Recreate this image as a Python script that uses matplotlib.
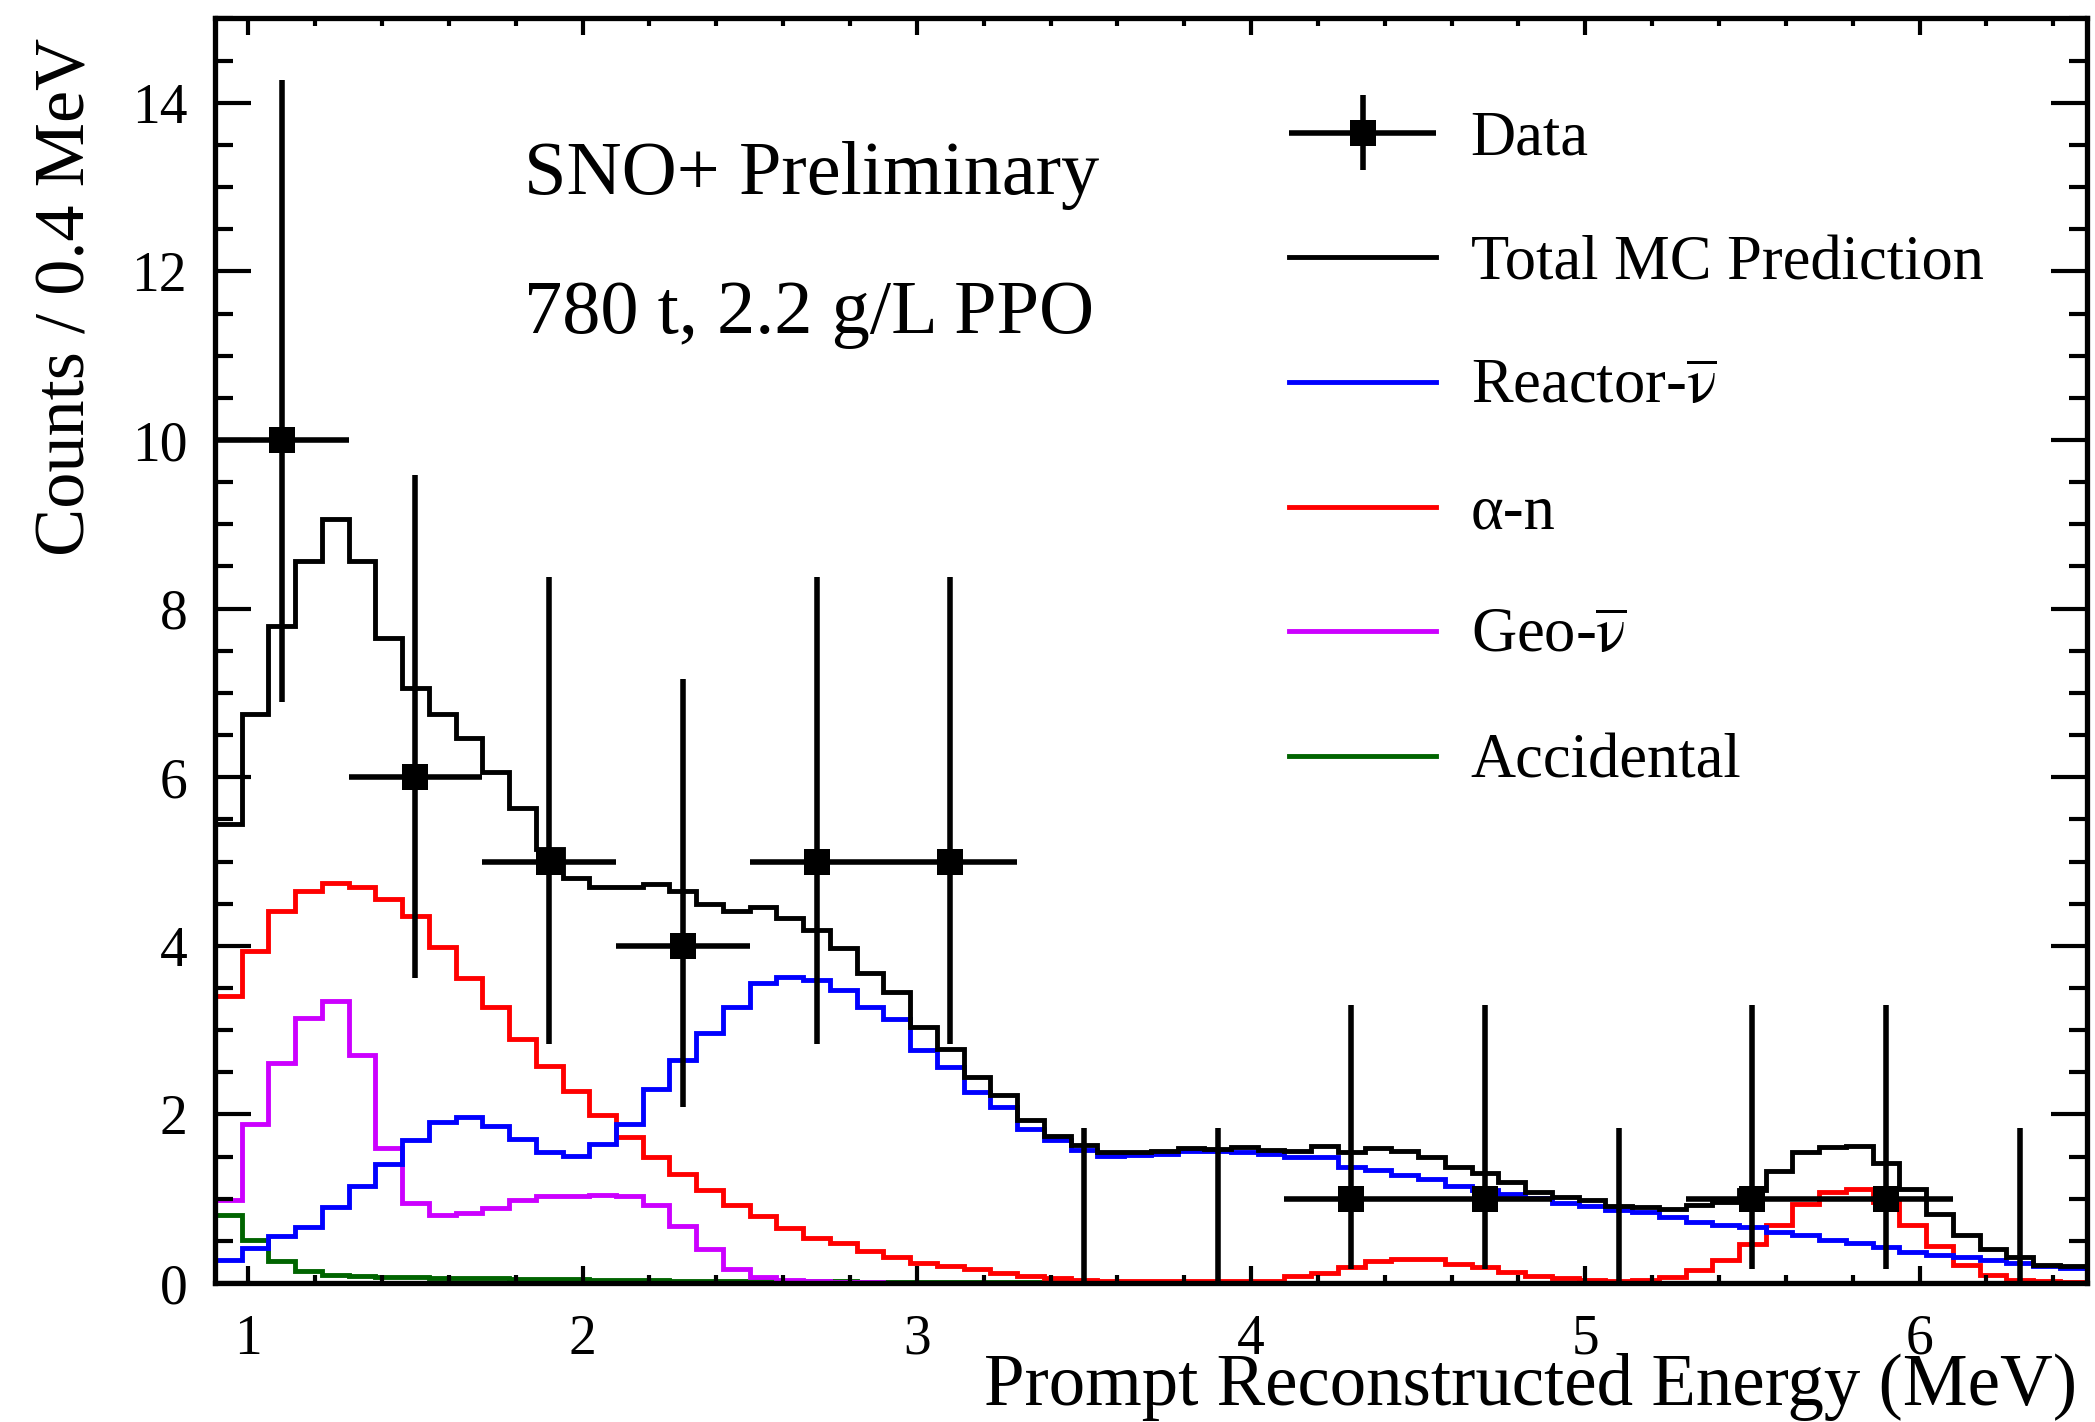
import numpy as np
import matplotlib
matplotlib.use("Agg")
import matplotlib.pyplot as plt
from matplotlib.ticker import MultipleLocator
from matplotlib.lines import Line2D
from matplotlib.legend_handler import HandlerErrorbar

plt.rcParams['font.family'] = ['Liberation Serif', 'DejaVu Sans']
plt.rcParams['mathtext.fontset'] = 'stix'

# histogram binning: 70 bins of 0.08 MeV between 0.9 and 6.5 MeV
e_lo, e_hi, n_bins = 0.9, 6.5, 70
edges = np.linspace(e_lo, e_hi, n_bins + 1)

total_mc = [5.45, 6.75, 7.79, 8.56, 9.06, 8.56, 7.65, 7.06, 6.75, 6.46,
            6.06, 5.63, 5.15, 4.81, 4.70, 4.70, 4.73, 4.65, 4.50, 4.41,
            4.46, 4.33, 4.19, 3.97, 3.68, 3.45, 3.04, 2.78, 2.45, 2.23,
            1.93, 1.75, 1.64, 1.55, 1.56, 1.57, 1.60, 1.59, 1.61, 1.58,
            1.57, 1.62, 1.56, 1.60, 1.57, 1.50, 1.38, 1.30, 1.20, 1.08,
            1.02, 0.98, 0.92, 0.90, 0.88, 0.93, 0.96, 1.10, 1.33, 1.56,
            1.61, 1.63, 1.42, 1.11, 0.82, 0.57, 0.41, 0.31, 0.22, 0.20]

reactor = [0.27, 0.42, 0.56, 0.66, 0.90, 1.15, 1.41, 1.70, 1.91, 1.97,
           1.86, 1.71, 1.56, 1.51, 1.65, 1.89, 2.30, 2.65, 2.97, 3.27,
           3.56, 3.63, 3.60, 3.48, 3.27, 3.13, 2.77, 2.56, 2.27, 2.09,
           1.83, 1.70, 1.58, 1.51, 1.52, 1.53, 1.57, 1.57, 1.55, 1.53,
           1.49, 1.49, 1.38, 1.34, 1.28, 1.24, 1.15, 1.10, 1.06, 1.01,
           0.95, 0.92, 0.87, 0.84, 0.78, 0.73, 0.69, 0.66, 0.60, 0.57,
           0.51, 0.48, 0.43, 0.37, 0.33, 0.31, 0.27, 0.24, 0.20, 0.18]

alpha_n = [3.40, 3.94, 4.41, 4.65, 4.75, 4.70, 4.55, 4.35, 3.99, 3.62,
           3.27, 2.89, 2.57, 2.28, 1.99, 1.73, 1.50, 1.29, 1.10, 0.93,
           0.80, 0.65, 0.54, 0.47, 0.38, 0.31, 0.24, 0.20, 0.17, 0.125,
           0.08, 0.06, 0.04, 0.03, 0.02, 0.02, 0.02, 0.02, 0.02, 0.03,
           0.08, 0.12, 0.19, 0.26, 0.29, 0.28, 0.23, 0.19, 0.13, 0.08,
           0.06, 0.04, 0.03, 0.04, 0.07, 0.15, 0.27, 0.46, 0.69, 0.94,
           1.08, 1.11, 0.96, 0.69, 0.44, 0.22, 0.10, 0.04, 0.02, 0.01]

geo = [0.99, 1.89, 2.61, 3.14, 3.34, 2.71, 1.60, 0.95, 0.81, 0.83,
       0.89, 0.98, 1.03, 1.03, 1.05, 1.03, 0.93, 0.68, 0.40, 0.17,
       0.07, 0.04, 0.02, 0.01, 0.01, 0, 0, 0, 0, 0,
       0, 0, 0, 0, 0, 0, 0, 0, 0, 0,
       0, 0, 0, 0, 0, 0, 0, 0, 0, 0,
       0, 0, 0, 0, 0, 0, 0, 0, 0, 0,
       0, 0, 0, 0, 0, 0, 0, 0, 0, 0]

accidental = [0.81, 0.51, 0.26, 0.14, 0.10, 0.08, 0.07, 0.07, 0.06, 0.06,
              0.06, 0.05, 0.05, 0.05, 0.04, 0.04, 0.04, 0.03, 0.03, 0.03,
              0.02, 0.02, 0.02, 0.02, 0.01, 0.01, 0.01, 0.01, 0.01, 0.01,
              0.01, 0.01, 0.01, 0.01, 0.01, 0, 0, 0, 0, 0,
              0, 0, 0, 0, 0, 0, 0, 0, 0, 0,
              0, 0, 0, 0, 0, 0, 0, 0, 0, 0,
              0, 0, 0, 0, 0, 0, 0, 0, 0, 0]

# data: 0.4 MeV bins
data_x = [1.1, 1.5, 1.9, 2.3, 2.7, 3.1, 3.5, 3.9, 4.3, 4.7, 5.1, 5.5, 5.9, 6.3]
data_y = [10, 6, 5, 4, 5, 5, 0, 0, 1, 1, 0, 1, 1, 0]
err_down = [3.11, 2.38, 2.16, 1.91, 2.16, 2.16, 0, 0, 0.83, 0.83, 0, 0.83, 0.83, 0]
err_up = [4.27, 3.58, 3.38, 3.16, 3.38, 3.38, 1.84, 1.84, 2.30, 2.30, 1.84, 2.30, 2.30, 1.84]
x_half = 0.2

fig = plt.figure(figsize=(20.95, 14.22), dpi=100)
ax = fig.add_axes([0.1026, 0.0977, 0.8934, 0.8893])

lw = 3.5
ax.stairs(accidental, edges, baseline=None, color='#006400', lw=lw)
ax.stairs(geo, edges, baseline=None, color='#cc00ff', lw=lw)
ax.stairs(alpha_n, edges, baseline=None, color='#ff0000', lw=lw)
ax.stairs(reactor, edges, baseline=None, color='#0000ff', lw=lw)
ax.stairs(total_mc, edges, baseline=None, color='black', lw=lw)

dx = np.array(data_x)
dy = np.array(data_y)
lo = np.array(err_down)
hi = np.array(err_up)
nz = dy > 0
ax.errorbar(dx[nz], dy[nz], xerr=x_half, yerr=[lo[nz], hi[nz]], fmt='s',
            color='black', ms=19, mew=0, elinewidth=4, capsize=0, zorder=5)
ax.errorbar(dx[~nz], dy[~nz], yerr=[lo[~nz], hi[~nz]], fmt='none',
            ecolor='black', elinewidth=4, capsize=0, zorder=5)

ax.set_xlim(e_lo, e_hi)
ax.set_ylim(0, 15)
ax.xaxis.set_major_locator(MultipleLocator(1))
ax.xaxis.set_minor_locator(MultipleLocator(0.2))
ax.yaxis.set_major_locator(MultipleLocator(2))
ax.yaxis.set_minor_locator(MultipleLocator(0.5))
ax.tick_params(which='both', direction='in', top=True, right=True, width=3,
               labelsize=40)
ax.tick_params(axis='x', which='major', length=12, pad=22)
ax.tick_params(axis='x', which='minor', length=6)
ax.tick_params(axis='y', which='major', length=26, pad=20)
ax.tick_params(axis='y', which='minor', length=13)
for s in ax.spines.values():
    s.set_linewidth(3.8)

ax.set_xlabel('Prompt Reconstructed Energy (MeV)', fontsize=52.5, ha='right')
ax.xaxis.set_label_coords(0.995, -0.055)
ax.set_ylabel('Counts / 0.4 MeV', fontsize=52, ha='right', va='center')
ax.yaxis.set_label_coords(-0.079, 0.985)

ax.text(0.165, 0.876, 'SNO+ Preliminary', transform=ax.transAxes,
        fontsize=55, va='center')
ax.text(0.165, 0.766, '780 t, 2.2 g/L PPO', transform=ax.transAxes,
        fontsize=55, va='center')

h_data = ax.errorbar([], [], xerr=[], yerr=[], fmt='s', color='black', ms=19,
                     mew=0, elinewidth=4, capsize=0)
handles = [h_data,
           Line2D([], [], color='black', lw=lw),
           Line2D([], [], color='#0000ff', lw=lw),
           Line2D([], [], color='#ff0000', lw=lw),
           Line2D([], [], color='#cc00ff', lw=lw),
           Line2D([], [], color='#006400', lw=lw)]
labels = ['Data', 'Total MC Prediction', r'Reactor-$\overline{\mathrm{\nu}}$', 'α-n',
          r'Geo-$\overline{\mathrm{\nu}}$', 'Accidental']
ax.legend(handles, labels, loc='upper left', bbox_to_anchor=(0.574, 0.927),
          frameon=False, fontsize=45, handlelength=2.35, handletextpad=0.55,
          labelspacing=1.065, borderpad=0, borderaxespad=0,
          handler_map={h_data: HandlerErrorbar(xerr_size=1.175, yerr_size=0.6)})

fig.savefig('out.png', dpi=100)
